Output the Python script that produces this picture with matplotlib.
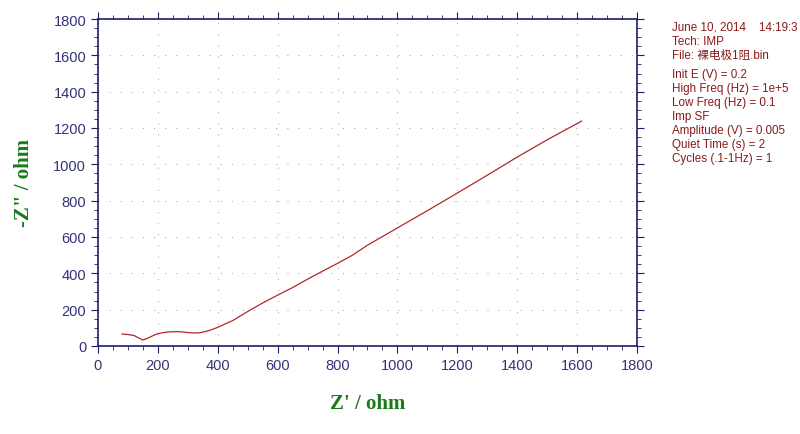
import matplotlib.pyplot as plt
import numpy as np
from matplotlib.ticker import MultipleLocator

# Nyquist data
z_real = [80, 100, 120, 135, 150, 165, 185, 200, 220, 240, 260, 280, 300, 320, 340,
          360, 380, 400, 420, 450, 500, 550, 600, 650, 700, 750, 800, 850, 900,
          1000, 1100, 1200, 1300, 1400, 1500, 1615]
z_imag = [66, 63, 58, 45, 33, 42, 58, 68, 74, 78, 79, 78, 74, 72, 73,
          80, 90, 103, 118, 140, 190, 237, 280, 322, 368, 412, 455, 500, 555,
          650, 745, 842, 940, 1040, 1135, 1238]

info_lines = ["June 10, 2014    14:19:3", "Tech: IMP", "File: 裸电极1阻.bin"]
param_lines = ["Init E (V) = 0.2", "High Freq (Hz) = 1e+5", "Low Freq (Hz) = 0.1",
               "Imp SF", "Amplitude (V) = 0.005", "Quiet Time (s) = 2",
               "Cycles (.1-1Hz) = 1"]

navy = '#1c1c6b'
fig = plt.figure(figsize=(8, 4.35), dpi=100)
ax = fig.add_axes([98/800, 88/435, 539/800, 327/435])

ax.plot(z_real, z_imag, color='#b02828', lw=0.9)

ax.set_xlim(0, 1800)
ax.set_ylim(0, 1800)
for a in (ax.xaxis, ax.yaxis):
    a.set_major_locator(MultipleLocator(200))
    a.set_minor_locator(MultipleLocator(50))
ax.tick_params(which='both', direction='out', color=navy, top=True, right=True,
               labelcolor='#33337a', labelsize=10.5)
ax.tick_params(which='major', length=5)
ax.tick_params(which='minor', length=3)
for lab in ax.get_xticklabels() + ax.get_yticklabels():
    lab.set_family('Liberation Sans')
for s in ax.spines.values():
    s.set_color(navy)
    s.set_linewidth(1.2)
ax.grid(True, which='major', color='#b0b0b0', linestyle=(0, (1, 9)), lw=0.8)

ax.set_xlabel("Z' / ohm", family='Liberation Serif', fontweight='bold',
              color='#1a7a1a', fontsize=15, labelpad=15)
fig.text(24/800, 1 - 183/435, '-Z" / ohm', family='Liberation Serif', fontweight='bold',
         color='#1a7a1a', fontsize=15, rotation=90, ha='center', va='center')

fam = ['Liberation Sans', 'Noto Sans CJK SC']
y = 28
for t in info_lines:
    fig.text(672/800, 1 - y/435, t, family=fam, fontsize=8.4, color='#8b1a1a', va='center')
    y += 14
y = 75
for t in param_lines:
    fig.text(672/800, 1 - y/435, t, family=fam, fontsize=8.4, color='#8b1a1a', va='center')
    y += 14

fig.savefig('out.png', dpi=100)
